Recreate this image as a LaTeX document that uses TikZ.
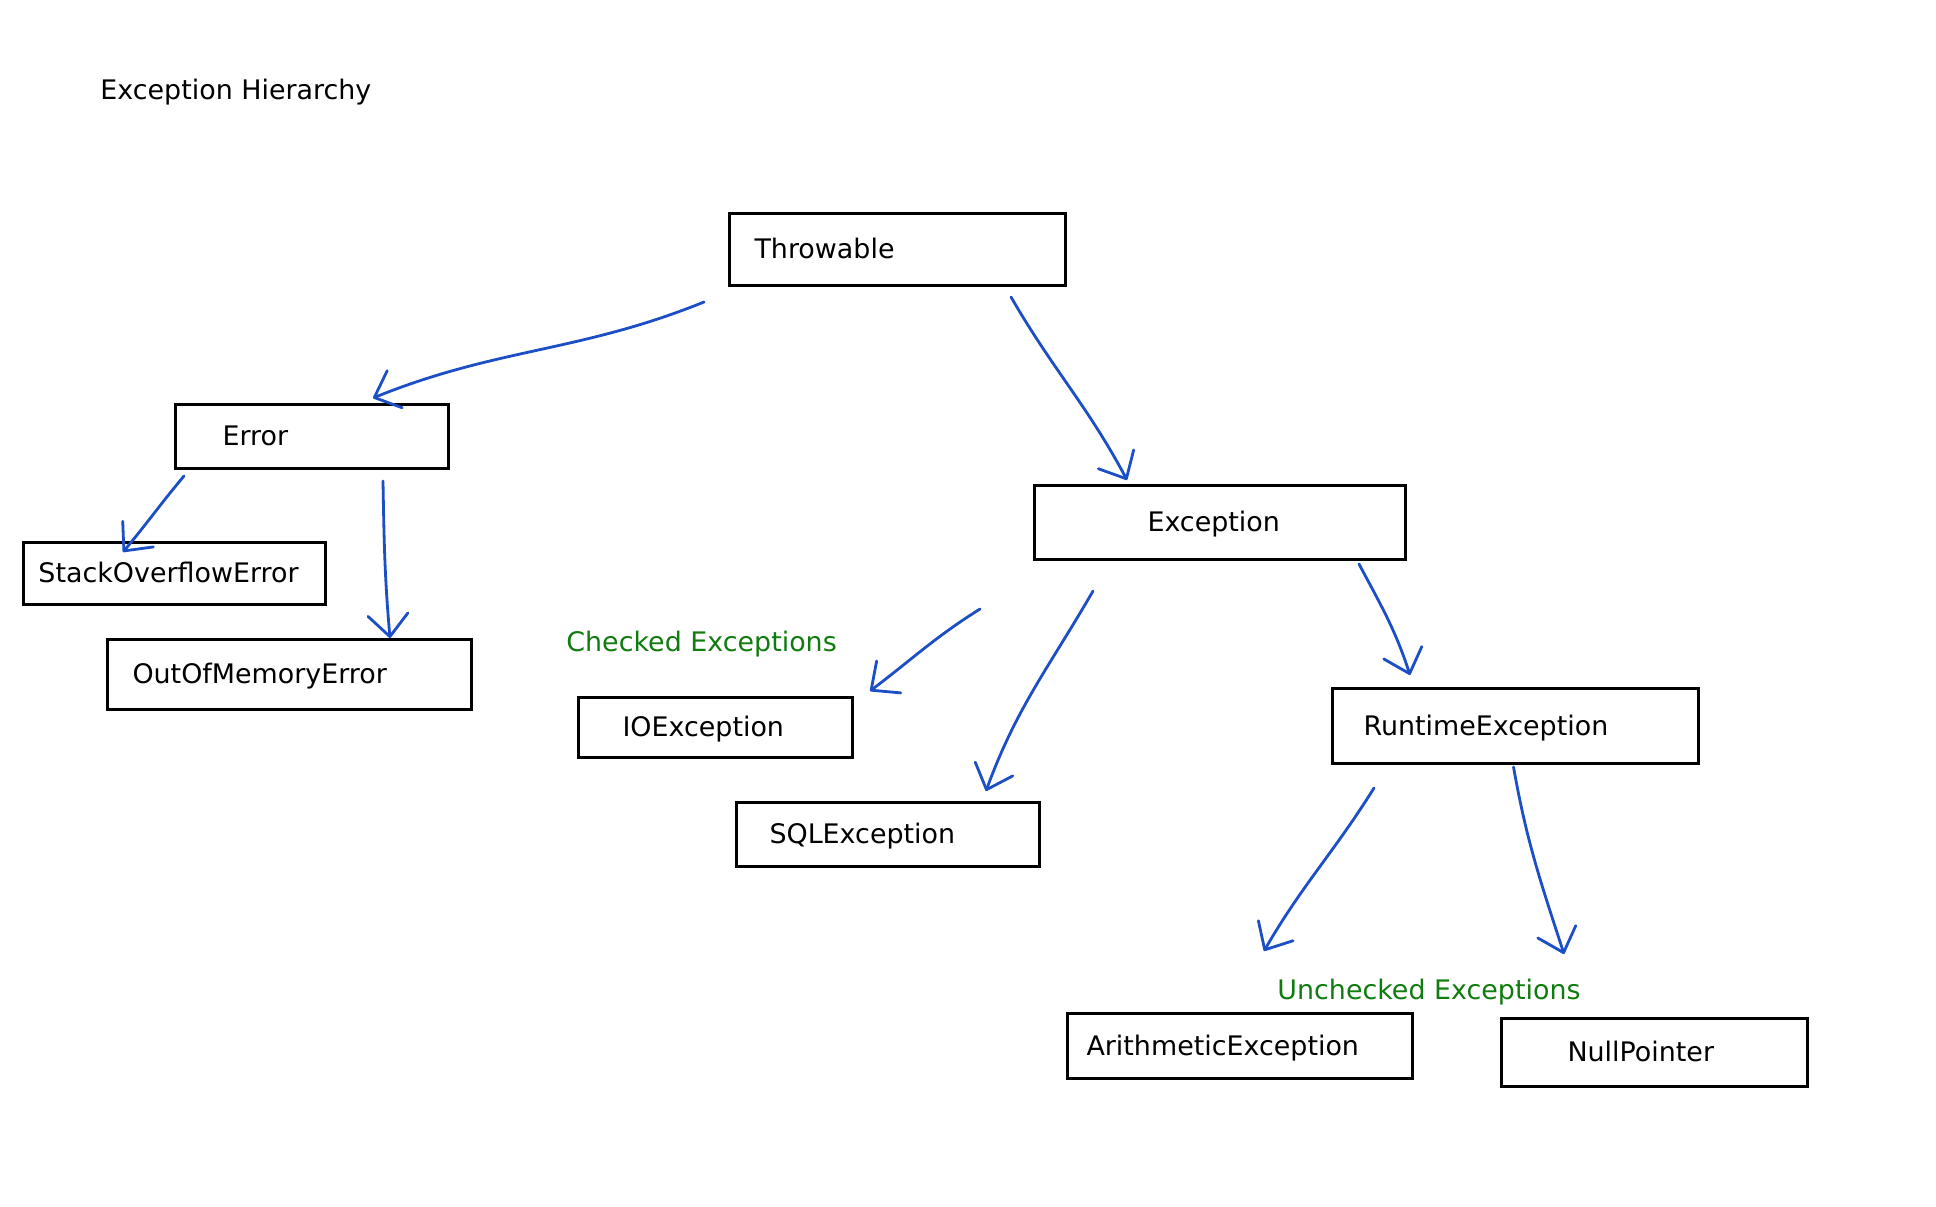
\documentclass[tikz,border=0pt]{standalone}
\usepackage{fontspec}
\setmainfont{DejaVu Sans}
\usepackage{tikz}
\usetikzlibrary{arrows.meta}
\definecolor{stiftblau}{RGB}{28,78,198}
\definecolor{textgruen}{RGB}{16,124,16}

\begin{document}
\begin{tikzpicture}[x=0.5pt,y=0.5pt,font=\fontsize{13.45}{16}\selectfont,
  kasten/.style={draw, line width=1.5pt, anchor=north west, inner ysep=0pt, align=left, text height=11pt, text depth=2pt},
  pfeil/.style={stiftblau, line width=1.4pt, line cap=round, line join=round, -{Straight Barb[length=11pt,width=20pt,round]}},
  notiz/.style={anchor=base west, inner sep=0pt}]
%Ein Pixel der Vorlage = 0.5pt, y geht nach unten (negativ)
\useasboundingbox (0,0) rectangle (1936,-1206);
\node[notiz] (titel) at (100,-99) {Exception Hierarchy};
%Kaesten: Breite, Hoehe, Abstand links
\node[kasten, minimum width=168pt, minimum height=36pt, inner xsep=12.5pt, text width=143pt] (thr) at (728,-212) {Throwable};
\node[kasten, minimum width=136.5pt, minimum height=32pt, inner xsep=23.5pt, text width=89.5pt] (err) at (174,-403) {Error};
\node[kasten, minimum width=151pt, minimum height=31pt, inner xsep=7.5pt, text width=136pt] (sof) at (22,-541) {StackOverflowError};
\node[kasten, minimum width=182pt, minimum height=35pt, inner xsep=12.5pt, text width=157pt] (oom) at (106,-638) {OutOfMemoryError};
\node[kasten, minimum width=185.5pt, minimum height=37pt, inner xsep=56.5pt, text width=72.5pt] (exc) at (1033,-484) {Exception};
\node[kasten, minimum width=137pt, minimum height=30pt, inner xsep=22pt, text width=93pt] (io) at (577,-696) {IOException};
\node[kasten, minimum width=151.5pt, minimum height=32pt, inner xsep=16.5pt, text width=118.5pt] (sql) at (735,-801) {SQLException};
\node[kasten, minimum width=183pt, minimum height=37.5pt, inner xsep=15.5pt, text width=152pt] (rt) at (1331,-687) {RuntimeException};
\node[kasten, minimum width=172.5pt, minimum height=32.5pt, inner xsep=9.5pt, text width=153.5pt] (ari) at (1066,-1012) {ArithmeticException};
\node[kasten, minimum width=153pt, minimum height=34pt, inner xsep=33pt, text width=87pt] (np) at (1500,-1017) {NullPointer};
\node[notiz, text=textgruen] (checked) at (566,-651) {Checked Exceptions};
\node[notiz, text=textgruen] (unchecked) at (1277,-999) {Unchecked Exceptions};
%Pfeile von Hand gezeichnet
\draw[pfeil] ([shift={(-24,-15)}]thr.south west) to[out=202,in=22] ([shift={(199,5)}]err.north west);
\draw[pfeil] ([shift={(-56,-10)}]thr.south east) to[out=-60,in=118] ([shift={(94,4)}]exc.north west);
\draw[pfeil] ([shift={(10,-6)}]err.south west) to[out=230,in=50] ([shift={(101,-11)}]sof.north west);
\draw[pfeil] ([shift={(-67,-11)}]err.south east) to[out=-89,in=95] ([shift={(284,0)}]oom.north west);
\draw[pfeil] ([shift={(-53,-48)}]exc.south west) to[out=212,in=37] ([shift={(16,5)}]io.north east);
\draw[pfeil] ([shift={(60,-30)}]exc.south west) to[out=240,in=70] ([shift={(-55,10)}]sql.north east);
\draw[pfeil] ([shift={(-48,-3)}]exc.south east) to[out=-62,in=108] ([shift={(79,12)}]rt.north west);
\draw[pfeil] ([shift={(43,-23)}]rt.south west) to[out=238,in=60] ([shift={(198,61)}]ari.north west);
\draw[pfeil] ([shift={(-2,-2)}]rt.south) to[out=-80,in=108] ([shift={(64,63)}]np.north west);
\end{tikzpicture}
\end{document}
